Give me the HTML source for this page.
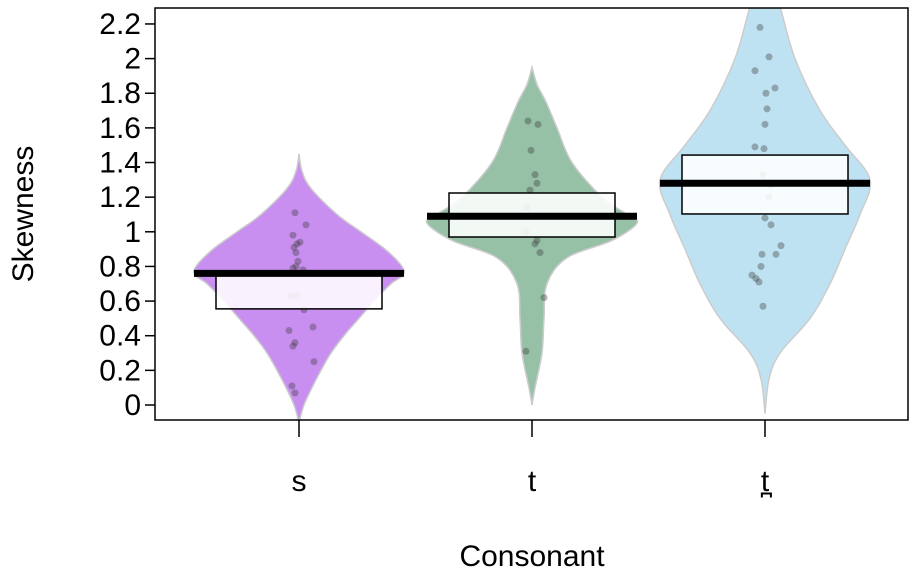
<!DOCTYPE html>
<html><head><meta charset="utf-8"><style>
body{margin:0;background:#fff}
svg{display:block;font-family:"Liberation Sans",sans-serif}
</style></head><body>
<svg id="c" width="916" height="574"></svg>
<script>
const categories=["s","t","t\u032A"];
const means=[0.76,1.09,1.28];
const boxLow=[0.555,0.97,1.103];
const boxHigh=[0.757,1.224,1.443];
const yTicks=[0,0.2,0.4,0.6,0.8,1,1.2,1.4,1.6,1.8,2,2.2];
const violinVals=[
 [1.45,1.35,1.25,1.1,1.0,0.9,0.8,0.75,0.7,0.6,0.5,0.4,0.3,0.2,0.1,0,-0.1],
 [1.95,1.85,1.75,1.6,1.4,1.2,1.1,1.05,0.95,0.85,0.7,0.5,0.3,0.1,0],
 [2.4,2.3,2.0,1.7,1.5,1.3,1.1,0.9,0.7,0.5,0.3,0.15,-0.05]];
const violinDens=[
 [0,3,12,38,62,86,103,104,92,75,60,45,32,22,13,5,0],
 [0,5,14,25,40,70,95,105,80,35,15,12,10,3,0],
 [8,15,30,55,80,105,95,80,65,45,15,4,0]];
const points=[
 [1.11,1.04,0.98,0.94,0.93,0.91,0.88,0.83,0.80,0.79,0.78,0.63,0.63,0.55,0.45,0.43,0.36,0.34,0.25,0.11,0.07],
 [1.64,1.62,1.47,1.33,1.28,1.24,1.14,1.09,1.0,0.95,0.93,0.88,0.62,0.31],
 [2.18,2.01,1.93,1.83,1.80,1.71,1.62,1.49,1.48,1.33,1.27,1.20,1.08,1.04,0.92,0.87,0.87,0.80,0.75,0.73,0.71,0.57]];
const jitter=[
 [-4,7,-6,1,-2,-5,-3,-1,-3,-6,4,-8,-2,5,14,-10,-4,-6,15,-7,-4],
 [-4,6,-1,3,5,-2,-5,-2,-6,5,3,8,12,-6],
 [-5,4,-10,10,1,2,0,-10,-1,-2,6,4,0,6,16,11,-3,-4,-13,-9,-6,-2]];
const colors=["#c88ef0","#97c1a6","#bfe2f2"];
const X0=155,X1=908,Y0=8,Y1=420;
const xs=i=>299+i*233;
const ys=v=>405-v*173.2;
const NS="http://www.w3.org/2000/svg";
const svg=document.getElementById('c');
function mk(t,a,p){const e=document.createElementNS(NS,t);for(const k in a)e.setAttribute(k,a[k]);(p||svg).appendChild(e);return e;}
function spline(pts){
 let d="M"+pts[0][0]+","+pts[0][1];
 for(let k=0;k<pts.length-1;k++){
  const p0=pts[Math.max(k-1,0)],p1=pts[k],p2=pts[k+1],p3=pts[Math.min(k+2,pts.length-1)];
  const c1=[p1[0]+(p2[0]-p0[0])/6,p1[1]+(p2[1]-p0[1])/6];
  const c2=[p2[0]-(p3[0]-p1[0])/6,p2[1]-(p3[1]-p1[1])/6];
  d+=" C"+c1.join(",")+" "+c2.join(",")+" "+p2.join(",");
 }
 return d;
}
const defs=mk('defs',{});const cp=mk('clipPath',{id:'clip'},defs);mk('rect',{x:X0,y:Y0,width:X1-X0,height:Y1-Y0},cp);
const g=mk('g',{'clip-path':'url(#clip)'});
categories.forEach((c,i)=>{
 const cx=xs(i),vv=violinVals[i],dd=violinDens[i];
 const r=vv.map((v,j)=>[cx+dd[j],ys(v)]),l=vv.map((v,j)=>[cx-dd[j],ys(v)]).reverse();
 const d=spline(r)+" L"+l[0].join(",")+spline(l).replace(/^M[^ ]+/,"")+"Z";
 const v=mk('path',{d:d,fill:colors[i],stroke:"#ccc","stroke-width":1.5},g);
 
 
 points[i].forEach((p,k)=>{
  const e=mk('circle',{cx:cx+jitter[i][k],cy:ys(p),r:3.5,fill:"rgba(60,60,60,0.38)"},g);
  
  
 });
 const b=mk('rect',{x:cx-83,y:ys(boxHigh[i]),width:166,height:ys(boxLow[i])-ys(boxHigh[i]),fill:"rgba(255,255,255,0.88)",stroke:"#000","stroke-width":1.5},g);
 
 
 const m=mk('line',{x1:cx-105,x2:cx+105,y1:ys(means[i]),y2:ys(means[i]),stroke:"#000","stroke-width":7},g);
 
 
 mk('line',{x1:cx,x2:cx,y1:Y1,y2:Y1+17,stroke:"#000","stroke-width":1.5});
 const t=mk('text',{x:cx,y:491,'text-anchor':'middle','font-size':30});t.textContent=c;
 
 
});
const fr=mk('rect',{x:X0,y:Y0,width:X1-X0,height:Y1-Y0,fill:"none",stroke:"#000","stroke-width":1.5});


yTicks.forEach(v=>{
 mk('line',{x1:X0-10,x2:X0,y1:ys(v),y2:ys(v),stroke:"#000","stroke-width":1.5});
 const t=mk('text',{x:X0-14,y:ys(v)+10,'text-anchor':'end','font-size':30});t.textContent=String(v);
 
 
});
const yt=mk('text',{x:0,y:0,transform:"translate(33,214) rotate(-90)",'text-anchor':'middle','font-size':30});yt.textContent="Skewness";


const xt=mk('text',{x:532,y:566,'text-anchor':'middle','font-size':30});xt.textContent="Consonant";


</script>
</body></html>
